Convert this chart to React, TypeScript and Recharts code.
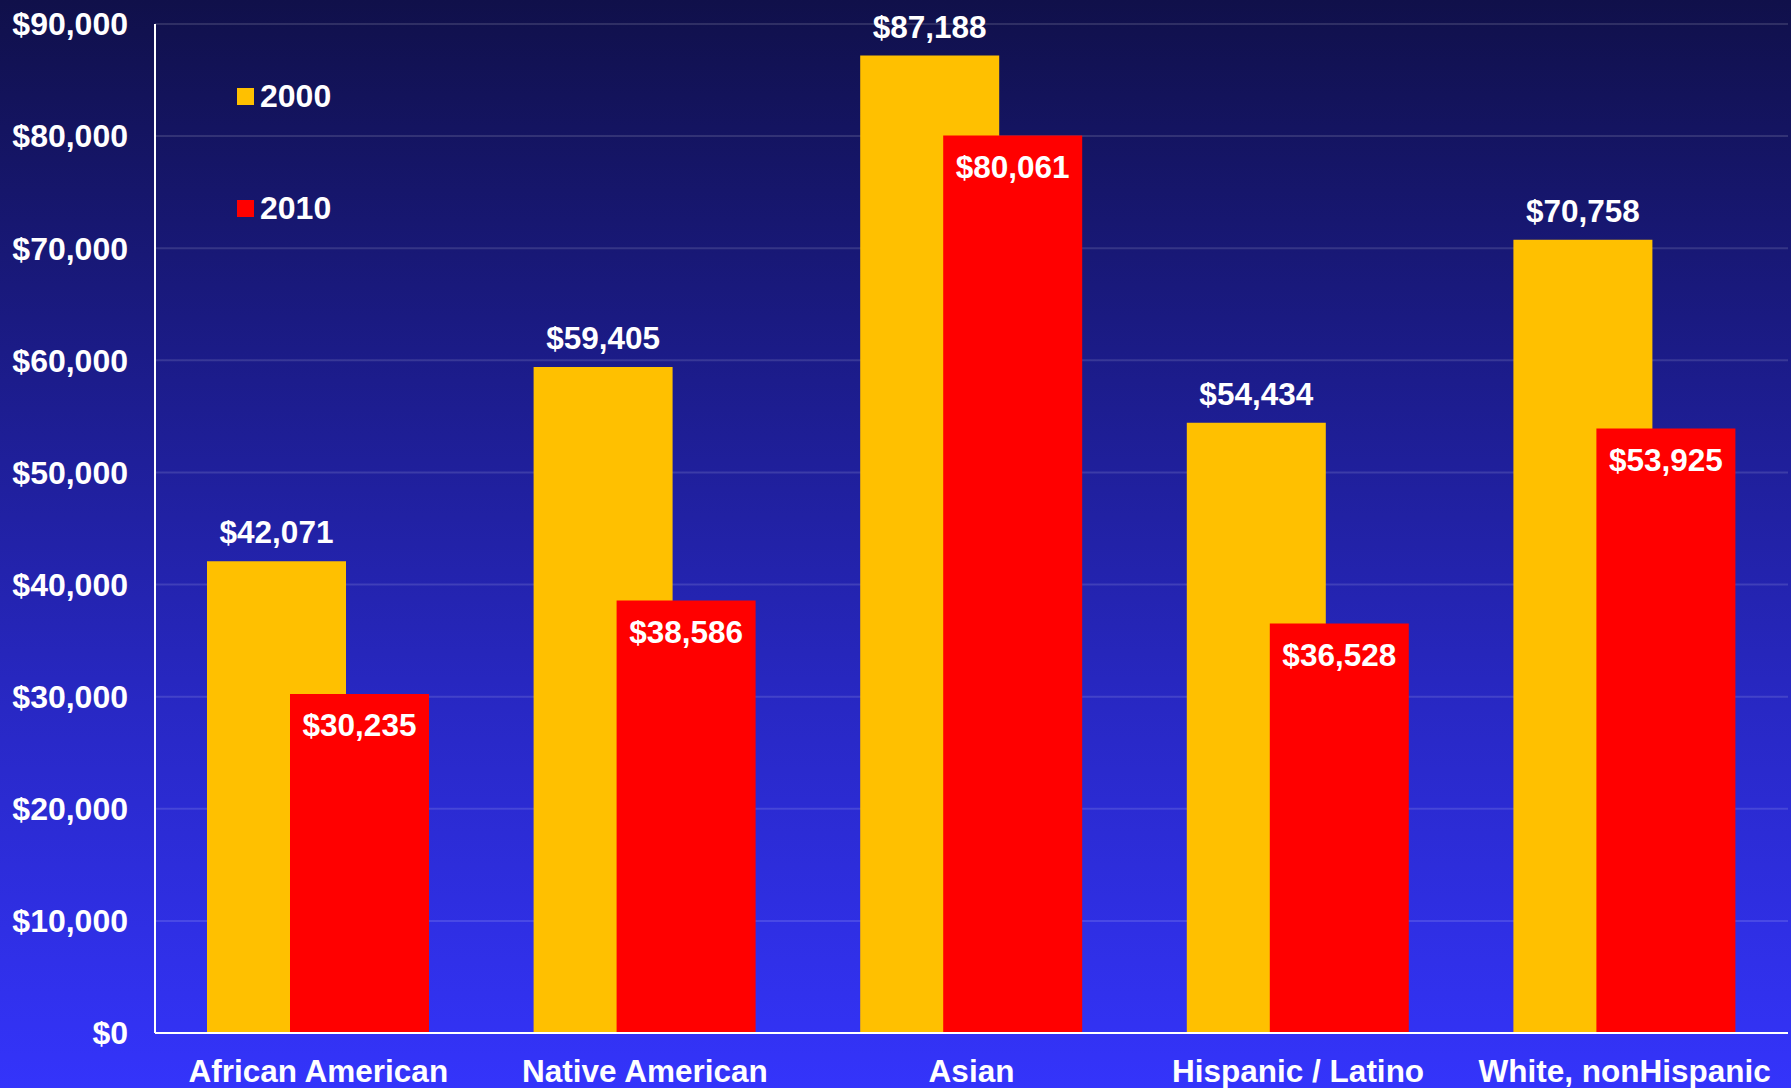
import React from "react";
import { BarChart, Bar, XAxis, YAxis, CartesianGrid, LabelList, Legend } from "recharts";

const categories = ["African American", "Native American", "Asian", "Hispanic / Latino", "White, nonHispanic"];
const values2000 = [42071, 59405, 87188, 54434, 70758];
const values2010 = [30235, 38586, 80061, 36528, 53925];
const yTicks = [0, 10000, 20000, 30000, 40000, 50000, 60000, 70000, 80000, 90000];
const seriesNames = ["2000", "2010"];
const seriesColors = ["#FFC000", "#FF0000"];

const data = categories.map((c, i) => ({ name: c, v2000: values2000[i], v2010: values2010[i] }));

const FONT = "'Liberation Sans', Arial, Helvetica, sans-serif";
const fmt = (v: number) => "$" + v.toLocaleString("en-US");

const LegendContent = () => (
  <div style={{ fontFamily: FONT, fontWeight: 700, fontSize: 32, color: "#fff" }}>
    {seriesNames.map((n, i) => (
      <div
        key={n}
        style={{ display: "flex", alignItems: "center", height: 32, lineHeight: "32px", marginTop: i === 0 ? 0 : 80 }}
      >
        <div style={{ width: 17, height: 17, background: seriesColors[i], marginRight: 6 }} />
        <span>{n}</span>
      </div>
    ))}
  </div>
);

export default function App() {
  return (
    <div
      style={{
        position: "absolute",
        left: 0,
        top: 0,
        width: 1791,
        height: 1088,
        background: "linear-gradient(to bottom, #10104a 0%, #1c1c8c 35%, #2828c4 65%, #3434fb 100%)",
        fontFamily: FONT,
      }}
    >
      <BarChart
        width={1791}
        height={1088}
        data={data}
        margin={{ top: 24, right: 3, bottom: 5, left: 15 }}
        barSize={139}
        barGap={-56}
      >
        <CartesianGrid vertical={false} stroke="rgba(255,255,255,0.13)" strokeWidth={2} />
        <XAxis
          dataKey="name"
          height={50}
          interval={0}
          tickLine={false}
          tickSize={0}
          tickMargin={27}
          axisLine={{ stroke: "#ffffff", strokeWidth: 2 }}
          tick={{ fill: "#ffffff", fontSize: 31.5, fontWeight: 700, fontFamily: FONT }}
        />
        <YAxis
          width={140}
          domain={[0, 90000]}
          ticks={yTicks}
          interval={0}
          tickLine={false}
          tickSize={0}
          tickMargin={27}
          tickFormatter={fmt}
          axisLine={{ stroke: "#ffffff", strokeWidth: 2 }}
          tick={{ fill: "#ffffff", fontSize: 32, fontWeight: 700, fontFamily: FONT }}
        />
        <Legend
          layout="vertical"
          align="center"
          verticalAlign="middle"
          content={<LegendContent />}
          wrapperStyle={{ left: 237, top: 80, width: "auto", height: "auto" }}
        />
        <Bar dataKey="v2000" name={seriesNames[0]} fill={seriesColors[0]} isAnimationActive={false}>
          <LabelList
            dataKey="v2000"
            position="top"
            offset={18}
            formatter={fmt}
            fill="#ffffff"
            style={{ fontSize: 31.5, fontWeight: 700, fontFamily: FONT }}
          />
        </Bar>
        <Bar dataKey="v2010" name={seriesNames[1]} fill={seriesColors[1]} isAnimationActive={false}>
          <LabelList
            dataKey="v2010"
            position="insideTop"
            offset={20}
            formatter={fmt}
            fill="#ffffff"
            style={{ fontSize: 31.5, fontWeight: 700, fontFamily: FONT }}
          />
        </Bar>
      </BarChart>
    </div>
  );
}
